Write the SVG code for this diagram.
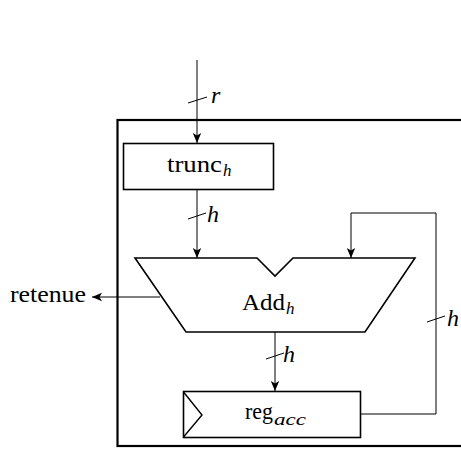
<svg xmlns="http://www.w3.org/2000/svg" width="461" height="449" viewBox="0 0 461 449">
<style>
.box{fill:#fff;stroke:#000;stroke-width:1.6}
.wire{fill:none;stroke:#000;stroke-width:1}
.t{font-family:"Liberation Serif","Times New Roman",serif;font-size:24px;fill:#000}
.i{font-style:italic}
.s{font-size:17px;font-style:italic}
</style>
<defs>
<marker id="arr" viewBox="-11 -5 12 10" refX="0" refY="0" markerWidth="12" markerHeight="10" markerUnits="userSpaceOnUse" orient="auto">
<path d="M0,0 L-10,-4.2 L-7.5,0 L-10,4.2 Z" fill="#000"/>
</marker>
</defs>
<rect x="117.5" y="120" width="400" height="326" fill="none" stroke="#000" stroke-width="2.2"/>
<g id="connectors">
<line class="wire" x1="197" y1="60" x2="197" y2="143" marker-end="url(#arr)"/>
<line class="wire" x1="188" y1="103" x2="207" y2="97"/>
<line class="wire" x1="197" y1="190" x2="197" y2="258" marker-end="url(#arr)"/>
<line class="wire" x1="188" y1="219" x2="206" y2="213"/>
<line class="wire" x1="275" y1="332" x2="275" y2="391" marker-end="url(#arr)"/>
<line class="wire" x1="266" y1="359" x2="284" y2="353"/>
<polyline class="wire" points="360,414 436,414 436,213 351,213 351,258" marker-end="url(#arr)"/>
<line class="wire" x1="427" y1="322" x2="445" y2="316"/>
<line class="wire" x1="160" y1="297" x2="92" y2="297" marker-end="url(#arr)"/>
</g>
<g id="trunc">
<rect class="box" x="123.5" y="143.5" width="150" height="46"/>
<text class="t" x="167" y="172" textLength="55" lengthAdjust="spacingAndGlyphs">trunc</text>
<text class="t s" x="223" y="176">h</text>
</g>
<g id="add">
<polygon class="box" points="135,258 257,258 275,276 293,258 415,258 365,332 186,332"/>
<text class="t" x="242" y="310" textLength="43" lengthAdjust="spacingAndGlyphs">Add</text>
<text class="t s" x="286" y="314">h</text>
</g>
<g id="reg">
<rect class="box" x="183.5" y="391.5" width="177" height="46"/>
<polyline class="wire" points="183.5,392 202,415 183.5,437" style="stroke-width:1.4"/>
<text class="t" x="245" y="419" textLength="28" lengthAdjust="spacingAndGlyphs">reg</text>
<text class="t s" x="274" y="425" textLength="32" lengthAdjust="spacingAndGlyphs">acc</text>
</g>
<g id="labels">
<text class="t i" x="211" y="103">r</text>
<text class="t i" x="207" y="222">h</text>
<text class="t i" x="283" y="362">h</text>
<text class="t i" x="447" y="326">h</text>
<text class="t" x="10" y="302" textLength="76" lengthAdjust="spacingAndGlyphs">retenue</text>
</g>
</svg>
